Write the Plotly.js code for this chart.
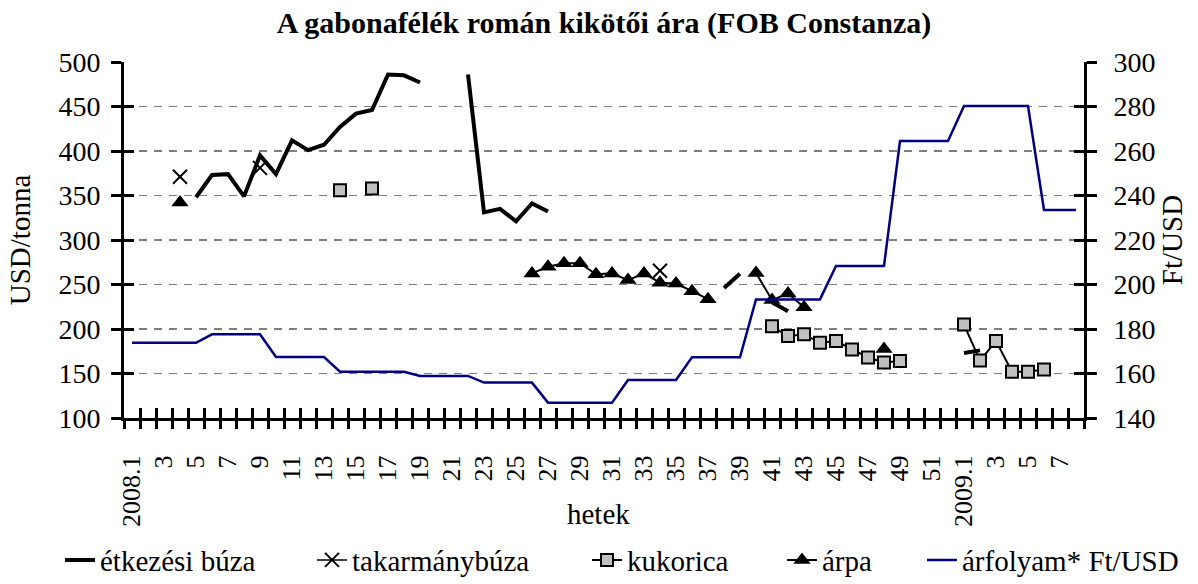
<!DOCTYPE html>
<html>
<head>
<meta charset="utf-8">
<script src="https://cdn.plot.ly/plotly-3.0.1.min.js"></script>
<style>html,body{margin:0;padding:0;background:#fff;}#chart{width:1198px;height:584px;}</style>
</head>
<body>
<div id="chart"></div>
<script>
// Week categories (2008 weeks 1-52, 2009 weeks 1-8)
const weekLabels = [
  '2008.1','2','3','4','5','6','7','8','9','10','11','12','13','14','15','16','17','18','19','20',
  '21','22','23','24','25','26','27','28','29','30','31','32','33','34','35','36','37','38','39','40',
  '41','42','43','44','45','46','47','48','49','50','51','52',
  '2009.1','2','3','4','5','6','7','8'
];

// USD/tonna series
const etkezesiBuza = [
  null,null,null,null,348,373,374,349,395,374,412,401,407,427,442,446,486,485,477,null,
  null,486,331,335,321,341,332,null,null,null,null,null,null,null,null,null,null,246,262,null,
  230,220,null,null,null,null,null,null,null,null,null,null,
  173,176,null,null,null,null,null,null
];
const takarmanyBuza = [
  null,null,null,371,null,null,null,null,381,null,null,null,null,null,null,null,null,null,null,null,
  null,null,null,null,null,null,null,null,null,null,null,null,null,265.5,null,null,null,null,null,null,
  null,null,null,null,null,null,null,null,null,null,null,null,
  null,null,null,null,null,null,null,null
];
const kukorica = [
  null,null,null,null,null,null,null,null,null,null,null,null,null,356,null,358,null,null,null,null,
  null,null,null,null,null,null,null,null,null,null,null,null,null,null,null,null,null,null,null,null,
  203,192,194,184.5,186.5,177,168,162.5,164,null,null,null,
  205,164.5,186.5,152,152,154.5,null,null
];
const arpa = [
  null,null,null,342,null,null,null,null,null,null,null,null,null,null,null,null,null,null,null,null,
  null,null,null,null,null,262.5,270,274,274,261.5,262.5,255,262.5,252,251,242.5,233.5,null,null,263,
  232.5,240,224.5,null,null,null,null,177.5,null,null,null,null,
  null,null,null,null,null,null,null,null
];
// Ft/USD series (right axis)
const arfolyam = [
  173.8,173.8,173.8,173.8,173.8,177.6,177.6,177.6,177.6,167.4,167.4,167.4,167.4,160.8,160.8,160.8,160.8,160.8,158.9,158.9,
  158.9,158.9,155.9,155.9,155.9,155.9,146.9,146.9,146.9,146.9,146.9,157.1,157.1,157.1,157.1,167.3,167.3,167.3,167.3,193.3,
  193.3,193.3,193.3,193.3,208.3,208.3,208.3,208.3,264.5,264.5,264.5,264.5,
  280.2,280.2,280.2,280.2,280.2,233.5,233.5,233.5
];

const xIdx = weekLabels.map((_, i) => i);
const labelVals = xIdx.filter(i => i % 2 === 0);
const labelText = labelVals.map(i => weekLabels[i]);
const boundaries = [];
for (let i = 0; i <= weekLabels.length; i++) boundaries.push(i - 0.5);

const FONT = 'Liberation Serif, Times New Roman, serif';
const xr = [-0.5, weekLabels.length - 0.5];

const traces = [
  {name:'étkezési búza', x:xIdx, y:etkezesiBuza, mode:'lines', line:{color:'#000', width:4}, legend:'legend', hoverinfo:'skip'},
  {name:'takarmánybúza', x:xIdx, y:takarmanyBuza, mode:'lines+markers', line:{color:'#000', width:1.5},
   marker:{symbol:'x-thin', size:14, line:{color:'#000', width:2}}, legend:'legend2', hoverinfo:'skip'},
  {name:'kukorica', x:xIdx, y:kukorica, mode:'lines+markers', line:{color:'#000', width:2},
   marker:{symbol:'square', size:12, color:'#c0c0c0', line:{color:'#000', width:2}}, legend:'legend3', hoverinfo:'skip'},
  {name:'árpa', x:xIdx, y:arpa, mode:'lines+markers', line:{color:'#000', width:2},
   marker:{symbol:'triangle-up', size:15, color:'#000'}, legend:'legend4', hoverinfo:'skip'},
  {name:'árfolyam* Ft/USD', x:xIdx, y:arfolyam, yaxis:'y2', mode:'lines', line:{color:'#000080', width:2.5}, legend:'legend5', hoverinfo:'skip'},
  {x:[null], y:[null], xaxis:'x2', yaxis:'y', showlegend:false, hoverinfo:'skip'},
  {x:[null], y:[null], xaxis:'x3', yaxis:'y', showlegend:false, hoverinfo:'skip'},
  {x:[null], y:[null], xaxis:'x', yaxis:'y3', showlegend:false, hoverinfo:'skip'},
  {x:[null], y:[null], xaxis:'x', yaxis:'y4', showlegend:false, hoverinfo:'skip'}
];

const legY = -0.399;
function leg(xp){
  return {x:xp, y:legY, xanchor:'left', yanchor:'middle', orientation:'h', font:{family:FONT, size:29, color:'#000'}, bgcolor:'rgba(0,0,0,0)', borderwidth:0};
}

const layout = {
  width:1198, height:584,
  margin:{l:124, r:114, t:62, b:166, autoexpand:false},
  paper_bgcolor:'#fff', plot_bgcolor:'#fff',
  font:{family:FONT, color:'#000', size:28},
  title:{text:'<b>A gabonafélék román kikötői ára (FOB Constanza)</b>', font:{family:FONT, size:30, color:'#000'},
         xref:'paper', x:0.5, xanchor:'center', yref:'container', y:0.962, yanchor:'middle'},
  xaxis:{range:xr, tickmode:'array', tickvals:labelVals, ticktext:labelText, tickangle:-90,
         ticks:'outside', ticklen:10, tickcolor:'rgba(0,0,0,0)', ticklabelstandoff:14,
         tickfont:{family:FONT, size:26}, showline:true, linecolor:'#000', linewidth:3,
         showgrid:false, zeroline:false, fixedrange:true},
  xaxis2:{overlaying:'x', anchor:'y', side:'bottom', range:xr, tickmode:'array', tickvals:boundaries,
          ticks:'outside', ticklen:10, tickwidth:3, tickcolor:'#000', showticklabels:false,
          showline:false, showgrid:false, zeroline:false},
  xaxis3:{overlaying:'x', anchor:'y', side:'bottom', range:xr, tickmode:'array', tickvals:boundaries,
          ticks:'inside', ticklen:10, tickwidth:3, tickcolor:'#000', showticklabels:false,
          showline:false, showgrid:false, zeroline:false},
  yaxis:{range:[100,500], tick0:100, dtick:50, ticks:'outside', ticklen:10, tickwidth:3, tickcolor:'#000',
         ticklabelstandoff:5, tickfont:{family:FONT, size:28},
         showline:true, linecolor:'#000', linewidth:3, zeroline:false,
         showgrid:true, gridcolor:'#7f7f7f', gridwidth:1.5, griddash:'8px,7px',
         title:{text:'USD/tonna', font:{family:FONT, size:29}, standoff:20}},
  yaxis3:{overlaying:'y', anchor:'x', side:'left', range:[100,500], tick0:100, dtick:50, ticks:'inside', ticklen:10,
          tickwidth:3, tickcolor:'#000', showticklabels:false, showline:false, showgrid:false, zeroline:false},
  yaxis2:{overlaying:'y', anchor:'x', side:'right', range:[140,300], tick0:140, dtick:20, ticks:'outside', ticklen:10,
          tickwidth:3, tickcolor:'#000', ticklabelstandoff:11, tickfont:{family:FONT, size:28},
          showline:true, linecolor:'#000', linewidth:3, zeroline:false, showgrid:false,
          title:{text:'Ft/USD', font:{family:FONT, size:29}, standoff:0}},
  yaxis4:{overlaying:'y', anchor:'x', side:'right', range:[140,300], tick0:140, dtick:20, ticks:'inside', ticklen:10,
          tickwidth:3, tickcolor:'#000', showticklabels:false, showline:false, showgrid:false, zeroline:false},
  annotations:[
    {text:'hetek', xref:'paper', yref:'paper', x:0.494, y:-0.27, xanchor:'center', yanchor:'middle',
     showarrow:false, font:{family:FONT, size:29, color:'#000'}}
  ],
  legend:leg((60-124)/960),
  legend2:leg((312-124)/960),
  legend3:leg((587-124)/960),
  legend4:leg((782-124)/960),
  legend5:leg((922-124)/960),
  showlegend:true
};

Plotly.newPlot('chart', traces, layout, {staticPlot:true, displayModeBar:false});
</script>
</body>
</html>
